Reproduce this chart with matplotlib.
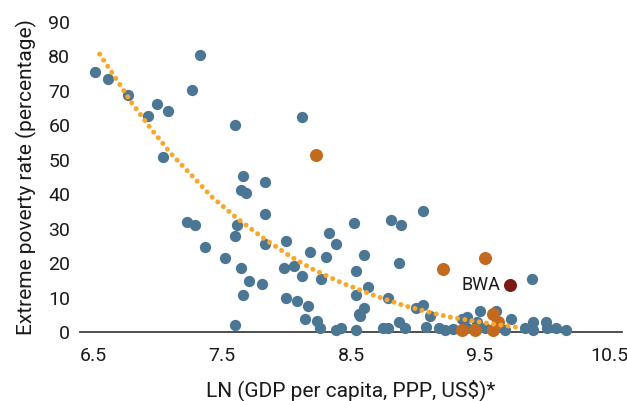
import matplotlib.pyplot as plt

# Countries: log GDP per capita vs extreme poverty rate
blue_x = [6.52, 6.62, 6.77, 6.93, 7.00, 7.08, 7.04, 7.27, 7.33, 7.60,
          7.665, 7.83, 7.645, 7.69, 7.83, 7.23, 7.29, 7.62, 7.60, 7.83,
          8.00, 7.37, 7.52, 7.645, 7.98, 8.06, 7.71, 7.81, 7.665, 8.00,
          8.08, 7.60, 8.12, 8.52, 8.81, 8.89, 8.33, 8.38, 8.18, 8.60,
          8.31, 8.12, 8.27, 8.54, 8.87, 8.63, 8.54, 8.79, 8.17, 8.60,
          8.56, 8.57, 9.00, 8.14, 8.24, 8.26, 8.38, 8.42, 8.54, 8.75,
          8.79, 8.87, 8.92, 9.06, 9.90, 9.06, 9.11, 9.08, 9.18, 9.23,
          9.29, 9.36, 9.40, 9.50, 9.48, 9.62, 9.54, 9.40, 9.69, 9.74,
          9.85, 9.91, 9.91, 10.01, 10.02, 10.09, 10.17]
blue_y = [75.5, 73.4, 68.7, 62.8, 66.3, 64.1, 50.7, 70.2, 80.4, 60.0,
          45.2, 43.6, 41.3, 40.4, 34.3, 32.0, 31.1, 31.1, 27.9, 25.6,
          26.4, 24.8, 21.6, 18.6, 18.6, 19.3, 14.7, 13.8, 10.7, 10.0,
          9.1, 2.1, 62.4, 31.8, 32.6, 31.1, 28.7, 25.5, 23.2, 22.4,
          21.8, 16.2, 15.4, 17.8, 20.1, 13.1, 10.8, 10.0, 7.7, 6.9,
          5.3, 4.7, 6.9, 3.7, 3.2, 1.3, 0.7, 1.3, 0.7, 1.3,
          1.3, 3.0, 1.3, 35.0, 15.4, 7.8, 4.6, 1.5, 1.3, 0.6,
          0.8, 3.9, 4.5, 6.0, 3.0, 6.0, 1.3, 1.3, 0.6, 3.7,
          1.3, 3.0, 0.6, 3.0, 1.3, 1.3, 0.6]

orange_x = [8.23, 9.21, 9.54, 9.36, 9.46, 9.60, 9.64, 9.60]
orange_y = [51.5, 18.3, 21.6, 0.6, 0.6, 5.2, 3.0, 0.6]

bwa_x = 9.73
bwa_y = 13.6

trend_x = [6.552, 6.657, 6.80, 6.952, 7.112, 7.285, 7.42, 7.614, 7.82,
           8.033, 8.20, 8.433, 8.673, 8.91, 9.164, 9.287, 9.55, 9.785]
trend_y = [80.7, 74.8, 66.6, 58.9, 51.5, 44.7, 39.3, 33.1, 27.3,
           21.9, 18.3, 14.2, 10.7, 7.7, 5.2, 4.2, 2.6, 1.4]

plt.rcParams['font.family'] = ['Roboto', 'DejaVu Sans']

fig = plt.figure(figsize=(6.27, 4.01), dpi=100)
ax = fig.add_axes([0.1276, 0.172, 0.8644, 0.773])

ax.scatter(blue_x, blue_y, s=66, color='#4b7795', linewidths=0,
           zorder=3, clip_on=False)
ax.scatter(orange_x, orange_y, s=88, color='#c46a1f', linewidths=0,
           zorder=4, clip_on=False)
ax.scatter([bwa_x], [bwa_y], s=88, color='#7b1a14', linewidths=0, zorder=5)
ax.text(bwa_x - 0.07, bwa_y, 'BWA', ha='right', va='center', fontsize=13,
        color='#1a1a1a', zorder=6)

ax.plot(trend_x, trend_y, color='#f9a72b', linewidth=3.6,
        linestyle=(0, (0.01, 1.45)), dash_capstyle='round', zorder=6)

ax.set_xlim(6.4, 10.6)
ax.set_ylim(0, 90)
ax.set_xticks([6.5, 7.5, 8.5, 9.5, 10.5])
ax.set_xticklabels(['6.5', '7.5', '8.5', '9.5', '10.5'])
ax.set_yticks(range(0, 91, 10))

for side in ['top', 'right', 'left']:
    ax.spines[side].set_visible(False)
ax.spines['bottom'].set_color('#404040')
ax.spines['bottom'].set_linewidth(1.3)
ax.tick_params(axis='both', length=0, labelsize=14, colors='#1a1a1a')
ax.tick_params(axis='x', pad=11)
ax.tick_params(axis='y', pad=7)

ax.set_xlabel('LN (GDP per capita, PPP, US$)*', fontsize=15,
              color='#1a1a1a', labelpad=10)
ax.set_ylabel('Extreme poverty rate (percentage)', fontsize=15,
              color='#1a1a1a', labelpad=8)

fig.savefig('out.png', dpi=100)
